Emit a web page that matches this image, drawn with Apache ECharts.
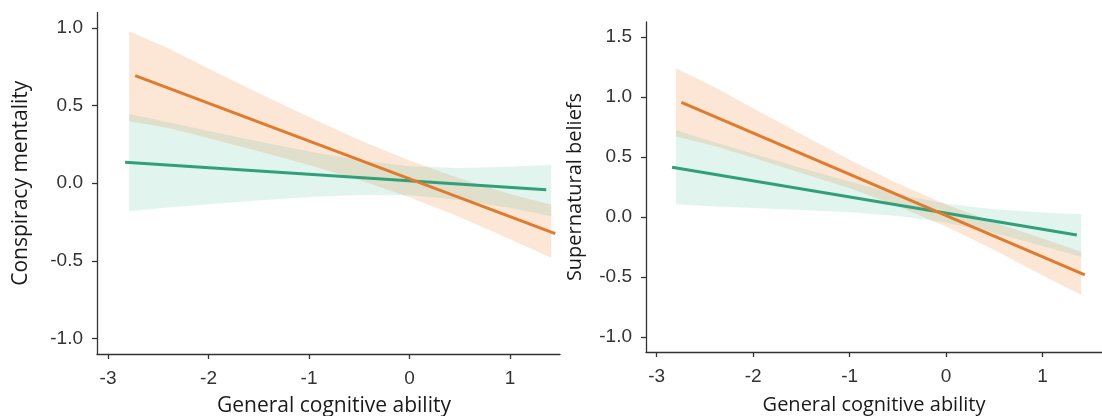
<!DOCTYPE html>
<html><head><meta charset="utf-8">
<script src="https://cdn.jsdelivr.net/npm/echarts@6/dist/echarts.min.js"></script>
<style>html,body{margin:0;padding:0;background:#fff}#c{width:1102px;height:416px}</style>
</head><body><div id="c"></div>
<script>
// ---- tick labels ----
const xTicks = [-3, -2, -1, 0, 1];
const yTicksLeft = [-1, -0.5, 0, 0.5, 1];
const yTicksRight = [-1, -0.5, 0, 0.5, 1, 1.5];

// ---- titles ----
const xTitle = 'General cognitive ability';
const yTitleLeft = 'Conspiracy mentality';
const yTitleRight = 'Supernatural beliefs';

// ---- left panel: conspiracy mentality ----
const ribbonXLeft = [-2.79, -2.4, -2, -1.5, -1, -0.5, 0, 0.5, 1, 1.41];
const orangeUpperLeft = [0.98, 0.87, 0.74, 0.58, 0.426, 0.279, 0.146, 0.03, -0.069, -0.138];
const orangeLowerLeft = [0.40, 0.356, 0.29, 0.206, 0.118, 0.021, -0.09, -0.218, -0.361, -0.48];
const greenUpperLeft = [0.446, 0.393, 0.337, 0.269, 0.205, 0.149, 0.11, 0.098, 0.106, 0.119];
const greenLowerLeft = [-0.18, -0.157, -0.135, -0.111, -0.089, -0.075, -0.078, -0.108, -0.16, -0.213];
const orangeLineLeft = [[-2.73, 0.693], [1.45, -0.325]];
const greenLineLeft = [[-2.83, 0.136], [1.36, -0.042]];

// ---- right panel: supernatural beliefs ----
const ribbonXRight = [-2.8, -2.4, -2, -1.5, -1, -0.5, 0, 0.5, 1, 1.4];
const orangeUpperRight = [1.24, 1.084, 0.907, 0.69, 0.478, 0.279, 0.104, -0.046, -0.179, -0.29];
const orangeLowerRight = [0.67, 0.592, 0.493, 0.366, 0.24, 0.089, -0.08, -0.276, -0.487, -0.65];
const greenUpperRight = [0.725, 0.622, 0.527, 0.409, 0.295, 0.19, 0.11, 0.064, 0.038, 0.022];
const greenLowerRight = [0.106, 0.088, 0.075, 0.059, 0.039, 0.008, -0.046, -0.134, -0.242, -0.334];
const orangeLineRight = [[-2.743, 0.956], [1.437, -0.483]];
const greenLineRight = [[-2.84, 0.414], [1.354, -0.15]];

const ORANGE = '#E07A2C';
const GREEN = '#2FA07A';
const ORANGE_FILL = 'rgba(245,160,95,0.25)';
const GREEN_FILL = 'rgba(60,180,140,0.15)';
const AXIS_COLOR = '#333';
const LABEL_COLOR = '#333';

function ribbon(idx, xs, lo, hi, fill) {
  return {
    type: 'custom', xAxisIndex: idx, yAxisIndex: idx, silent: true, z: 1,
    data: [[xs[0], lo[0]]],
    renderItem: function (params, api) {
      const pts = [];
      for (let i = 0; i < xs.length; i++) pts.push(api.coord([xs[i], hi[i]]));
      for (let i = xs.length - 1; i >= 0; i--) pts.push(api.coord([xs[i], lo[i]]));
      return { type: 'polygon', shape: { points: pts }, style: { fill: fill } };
    }
  };
}
function line(idx, data, color) {
  return {
    type: 'line', xAxisIndex: idx, yAxisIndex: idx, data: data, showSymbol: false,
    symbol: 'none', silent: true, z: 3,
    lineStyle: { color: color, width: 3, cap: 'butt' }, animation: false
  };
}
function xAxis(idx, min, max, gap, pad, fs) {
  return {
    type: 'value', gridIndex: idx, min: min, max: max,
    axisLine: { show: true, onZero: false, lineStyle: { color: AXIS_COLOR, width: 1.3 } },
    axisTick: { show: true, length: 5, customValues: xTicks, lineStyle: { color: AXIS_COLOR, width: 1.3 } },
    axisLabel: { customValues: xTicks, margin: 15, fontSize: 19, color: LABEL_COLOR,
      fontFamily: 'Liberation Sans, Arial, sans-serif', formatter: v => String(v) },
    splitLine: { show: false },
    name: xTitle, nameLocation: 'middle', nameGap: gap,
    nameTextStyle: { fontSize: fs, color: '#1a1a1a', fontFamily: 'Open Sans, sans-serif', padding: pad }
  };
}
function yAxis(idx, min, max, ticks, title, gap, fs) {
  return {
    type: 'value', gridIndex: idx, min: min, max: max,
    axisLine: { show: true, onZero: false, lineStyle: { color: AXIS_COLOR, width: 1.3 } },
    axisTick: { show: true, length: 5, customValues: ticks, lineStyle: { color: AXIS_COLOR, width: 1.3 } },
    axisLabel: { customValues: ticks, margin: 14, fontSize: 19, color: LABEL_COLOR,
      fontFamily: 'Liberation Sans, Arial, sans-serif', formatter: v => v.toFixed(1) },
    splitLine: { show: false },
    name: title, nameLocation: 'middle', nameGap: gap, nameRotate: 90,
    nameTextStyle: { fontSize: fs, color: '#1a1a1a', fontFamily: 'Open Sans, sans-serif' }
  };
}

const chart = echarts.init(document.getElementById('c'), null, { renderer: 'canvas' });
chart.setOption({
  animation: false,
  backgroundColor: '#fff',
  grid: [
    { left: 97, top: 12.5, width: 463, height: 341.5, containLabel: false, outerBoundsMode: 'none' },
    { left: 646, top: 22, width: 456, height: 330, containLabel: false, outerBoundsMode: 'none' }
  ],
  xAxis: [
    xAxis(0, -3.11, 1.497, 42, [0, 0, 0, 11], 21),
    xAxis(1, -3.11, 1.615, 43, [0, 0, 0, 0], 20)
  ],
  yAxis: [
    yAxis(0, -1.1, 1.1, yTicksLeft, yTitleLeft, 65, 21),
    yAxis(1, -1.125, 1.625, yTicksRight, yTitleRight, 61, 20)
  ],
  series: [
    ribbon(0, ribbonXLeft, orangeLowerLeft, orangeUpperLeft, ORANGE_FILL),
    ribbon(0, ribbonXLeft, greenLowerLeft, greenUpperLeft, GREEN_FILL),
    line(0, greenLineLeft, GREEN),
    line(0, orangeLineLeft, ORANGE),
    ribbon(1, ribbonXRight, orangeLowerRight, orangeUpperRight, ORANGE_FILL),
    ribbon(1, ribbonXRight, greenLowerRight, greenUpperRight, GREEN_FILL),
    line(1, greenLineRight, GREEN),
    line(1, orangeLineRight, ORANGE)
  ]
});
</script>
</body></html>
